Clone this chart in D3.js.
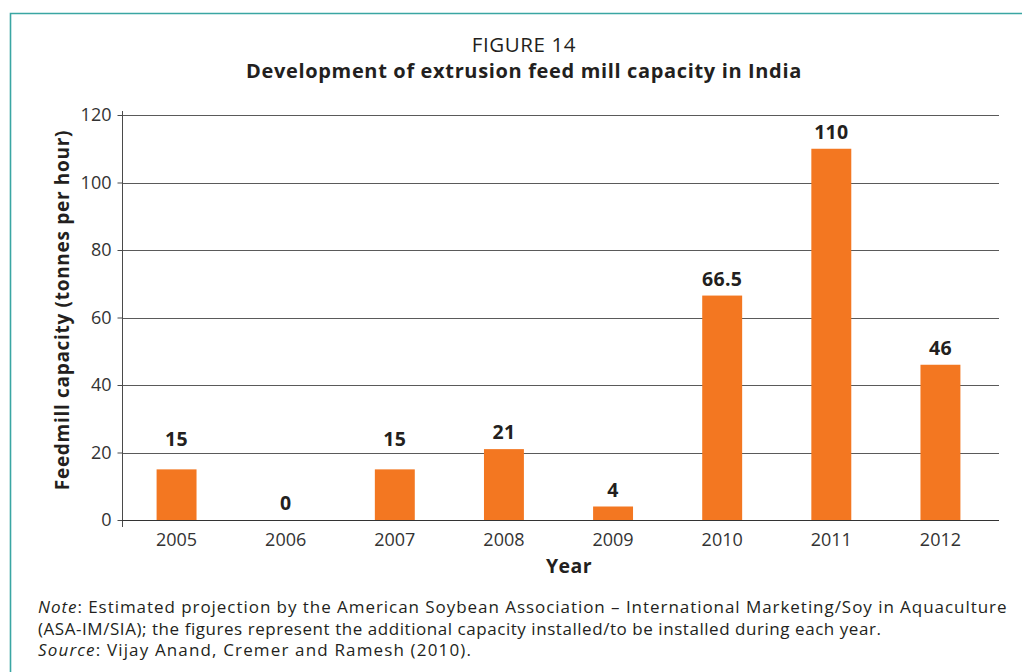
<!DOCTYPE html>
<html>
<head>
<meta charset="utf-8">
<script src="https://cdn.jsdelivr.net/npm/d3@7"></script>
<style>
  html, body { margin: 0; padding: 0; background: #fff; }
  svg { display: block; font-family: "Open Sans", "Noto Sans", sans-serif; }
</style>
</head>
<body>
<svg id="chart" width="1022" height="672"></svg>
<script>
// Installed extrusion feed mill capacity per year (tonnes per hour)
const years = ["2005", "2006", "2007", "2008", "2009", "2010", "2011", "2012"];
const capacity = [15, 0, 15, 21, 4, 66.5, 110, 46];
const valueLabels = ["15", "0", "15", "21", "4", "66.5", "110", "46"];
const yTicks = [0, 20, 40, 60, 80, 100, 120];

const svg = d3.select("#chart");
const W = 1022, H = 672;
const plot = { left: 122, right: 995, top: 115, bottom: 520 };

// panel frame
svg.append("path")
  .attr("d", `M10.5,${H} L10.5,13.5 L${W},13.5`)
  .attr("fill", "none")
  .attr("stroke", "#3aa6a3")
  .attr("stroke-width", 1.6);

// titles
svg.append("text")
  .attr("x", 524).attr("y", 52)
  .attr("text-anchor", "middle")
  .attr("font-size", 20.5).attr("letter-spacing", 0.6).attr("fill", "#231f20")
  .text("FIGURE 14");
svg.append("text")
  .attr("x", 524).attr("y", 78)
  .attr("text-anchor", "middle")
  .attr("font-size", 20).attr("font-weight", "bold").attr("letter-spacing", 0.65).attr("fill", "#231f20")
  .text("Development of extrusion feed mill capacity in India");

const x = d3.scaleBand().domain(years).range([plot.left, plot.right]).paddingInner(0.634).paddingOuter(0.317);
const y = d3.scaleLinear().domain([0, 120]).range([plot.bottom, plot.top]);

// horizontal gridlines
svg.append("g").selectAll("line").data(yTicks.filter(d => d > 0)).join("line")
  .attr("x1", plot.left).attr("x2", 999)
  .attr("y1", d => Math.round(y(d)) + 0.5).attr("y2", d => Math.round(y(d)) + 0.5)
  .attr("stroke", "#5a5a5a").attr("stroke-width", 1);

// bars
svg.append("g").selectAll("rect").data(capacity).join("rect")
  .attr("x", (d, i) => x(years[i]))
  .attr("width", x.bandwidth())
  .attr("y", d => y(d))
  .attr("height", d => y(0) - y(d))
  .attr("fill", "#f37721");

// value labels sit above each bar; lifted clear of a gridline they would cross
function labelBaseline(d) {
  let b = y(d) - 10;
  yTicks.filter(t => t > 0).forEach(t => {
    const g = y(t);
    if (g > b - 16 && g < b + 2) b = g - 7;
  });
  return b;
}
svg.append("g").selectAll("text").data(capacity).join("text")
  .attr("x", (d, i) => x(years[i]) + x.bandwidth() / 2)
  .attr("y", d => labelBaseline(d))
  .attr("text-anchor", "middle")
  .attr("font-size", 19.5).attr("font-weight", "bold").attr("letter-spacing", 0.3).attr("fill", "#231f20")
  .text((d, i) => valueLabels[i]);

// y axis
const yAxis = svg.append("g")
  .attr("transform", `translate(${plot.left + 0.5},0)`)
  .call(d3.axisLeft(y).tickValues(yTicks).tickSize(5).tickPadding(6));
yAxis.select(".domain").remove();
yAxis.append("line").attr("x1", 0).attr("x2", 0).attr("y1", 111).attr("y2", 527)
  .attr("stroke", "#4a4a4a");
yAxis.selectAll(".tick line").attr("stroke", "#4a4a4a");
yAxis.selectAll(".tick text")
  .attr("font-size", 18).attr("fill", "#333").attr("font-family", "\"Open Sans\", sans-serif");

// x axis baseline
svg.append("line")
  .attr("x1", plot.left).attr("x2", 999)
  .attr("y1", Math.round(y(0)) + 0.5).attr("y2", Math.round(y(0)) + 0.5)
  .attr("stroke", "#333");

const xAxis = svg.append("g")
  .attr("transform", `translate(0,${plot.bottom})`)
  .call(d3.axisBottom(x).tickSize(0).tickPadding(13));
xAxis.select(".domain").remove();
xAxis.selectAll(".tick text")
  .attr("font-size", 18).attr("fill", "#333").attr("font-family", "\"Open Sans\", sans-serif");

// axis titles
svg.append("text")
  .attr("x", 569).attr("y", 573)
  .attr("text-anchor", "middle")
  .attr("font-size", 19.5).attr("font-weight", "bold").attr("letter-spacing", 0.4).attr("fill", "#231f20")
  .text("Year");
svg.append("text")
  .attr("transform", `translate(69,310) rotate(-90)`)
  .attr("text-anchor", "middle")
  .attr("font-size", 19).attr("font-weight", "bold").attr("letter-spacing", 0.7).attr("fill", "#231f20")
  .text("Feedmill capacity (tonnes per hour)");

// footnote
const note = svg.append("text").attr("font-size", 17).attr("fill", "#231f20");
const l1 = note.append("tspan").attr("x", 38).attr("y", 613).attr("letter-spacing", 0.95);
l1.append("tspan").attr("font-style", "italic").text("Note");
l1.append("tspan").text(": Estimated projection by the American Soybean Association \u2013 International Marketing/Soy in Aquaculture");
note.append("tspan").attr("x", 38).attr("y", 635).attr("letter-spacing", 0.55)
  .text("(ASA-IM/SIA); the figures represent the additional capacity installed/to be installed during each year.");
const l3 = note.append("tspan").attr("x", 38).attr("y", 656).attr("letter-spacing", 1.15);
l3.append("tspan").attr("font-style", "italic").text("Source");
l3.append("tspan").text(": Vijay Anand, Cremer and Ramesh (2010).");
</script>
</body>
</html>
